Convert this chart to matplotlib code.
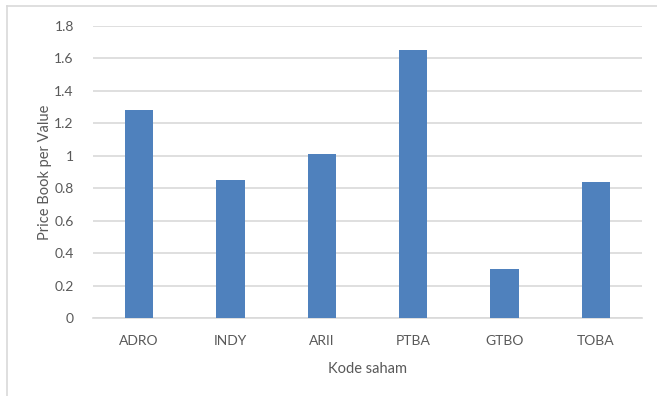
import matplotlib
matplotlib.use("Agg")
import matplotlib.pyplot as plt
from matplotlib.lines import Line2D

categories = ["ADRO", "INDY", "ARII", "PTBA", "GTBO", "TOBA"]
values = [1.28, 0.85, 1.01, 1.655, 0.30, 0.84]
yticks = [0, 0.2, 0.4, 0.6, 0.8, 1, 1.2, 1.4, 1.6, 1.8]
ytick_labels = ["0", "0.2", "0.4", "0.6", "0.8", "1", "1.2", "1.4", "1.6", "1.8"]

plt.rcParams['font.family'] = ['Lato', 'DejaVu Sans']

W, H = 657, 396
fig = plt.figure(figsize=(W/100, H/100), dpi=100)
ax = fig.add_axes([93.3/W, 1-318/H, (641.7-93.3)/W, (318-26)/H])

x = range(len(categories))
ax.bar(x, values, width=0.31, color="#4F81BD", zorder=3)
ax.set_xlim(-0.5, len(categories)-0.5)
ax.set_ylim(0, 1.8)
ax.set_yticks(yticks)
ax.set_yticklabels(ytick_labels)
ax.set_xticks(list(x))
ax.set_xticklabels(categories)
ax.yaxis.grid(True, color="#D9D9D9", linewidth=1.2, zorder=0)
ax.set_axisbelow(True)
for s in ["top", "right", "left"]:
    ax.spines[s].set_visible(False)
ax.spines["bottom"].set_color("#D9D9D9")
ax.spines["bottom"].set_linewidth(1.2)
ax.tick_params(axis="both", length=0, colors="#595959", labelsize=10)
ax.tick_params(axis="y", pad=14)
ax.tick_params(axis="x", pad=12.5)
ax.set_ylabel("Price Book per Value", color="#595959", fontsize=10.5, labelpad=1.5)
ax.set_xlabel("Kode saham", color="#595959", fontsize=10.5, labelpad=10.5)

# outer chart frame (partially visible)
fig.add_artist(Line2D([7/W, 7/W], [0, 1-6/H], color="#D9D9D9", linewidth=1.2, transform=fig.transFigure))
fig.add_artist(Line2D([7/W, 1], [1-6/H, 1-6/H], color="#D9D9D9", linewidth=1.2, transform=fig.transFigure))

fig.savefig("out.png", dpi=100)
